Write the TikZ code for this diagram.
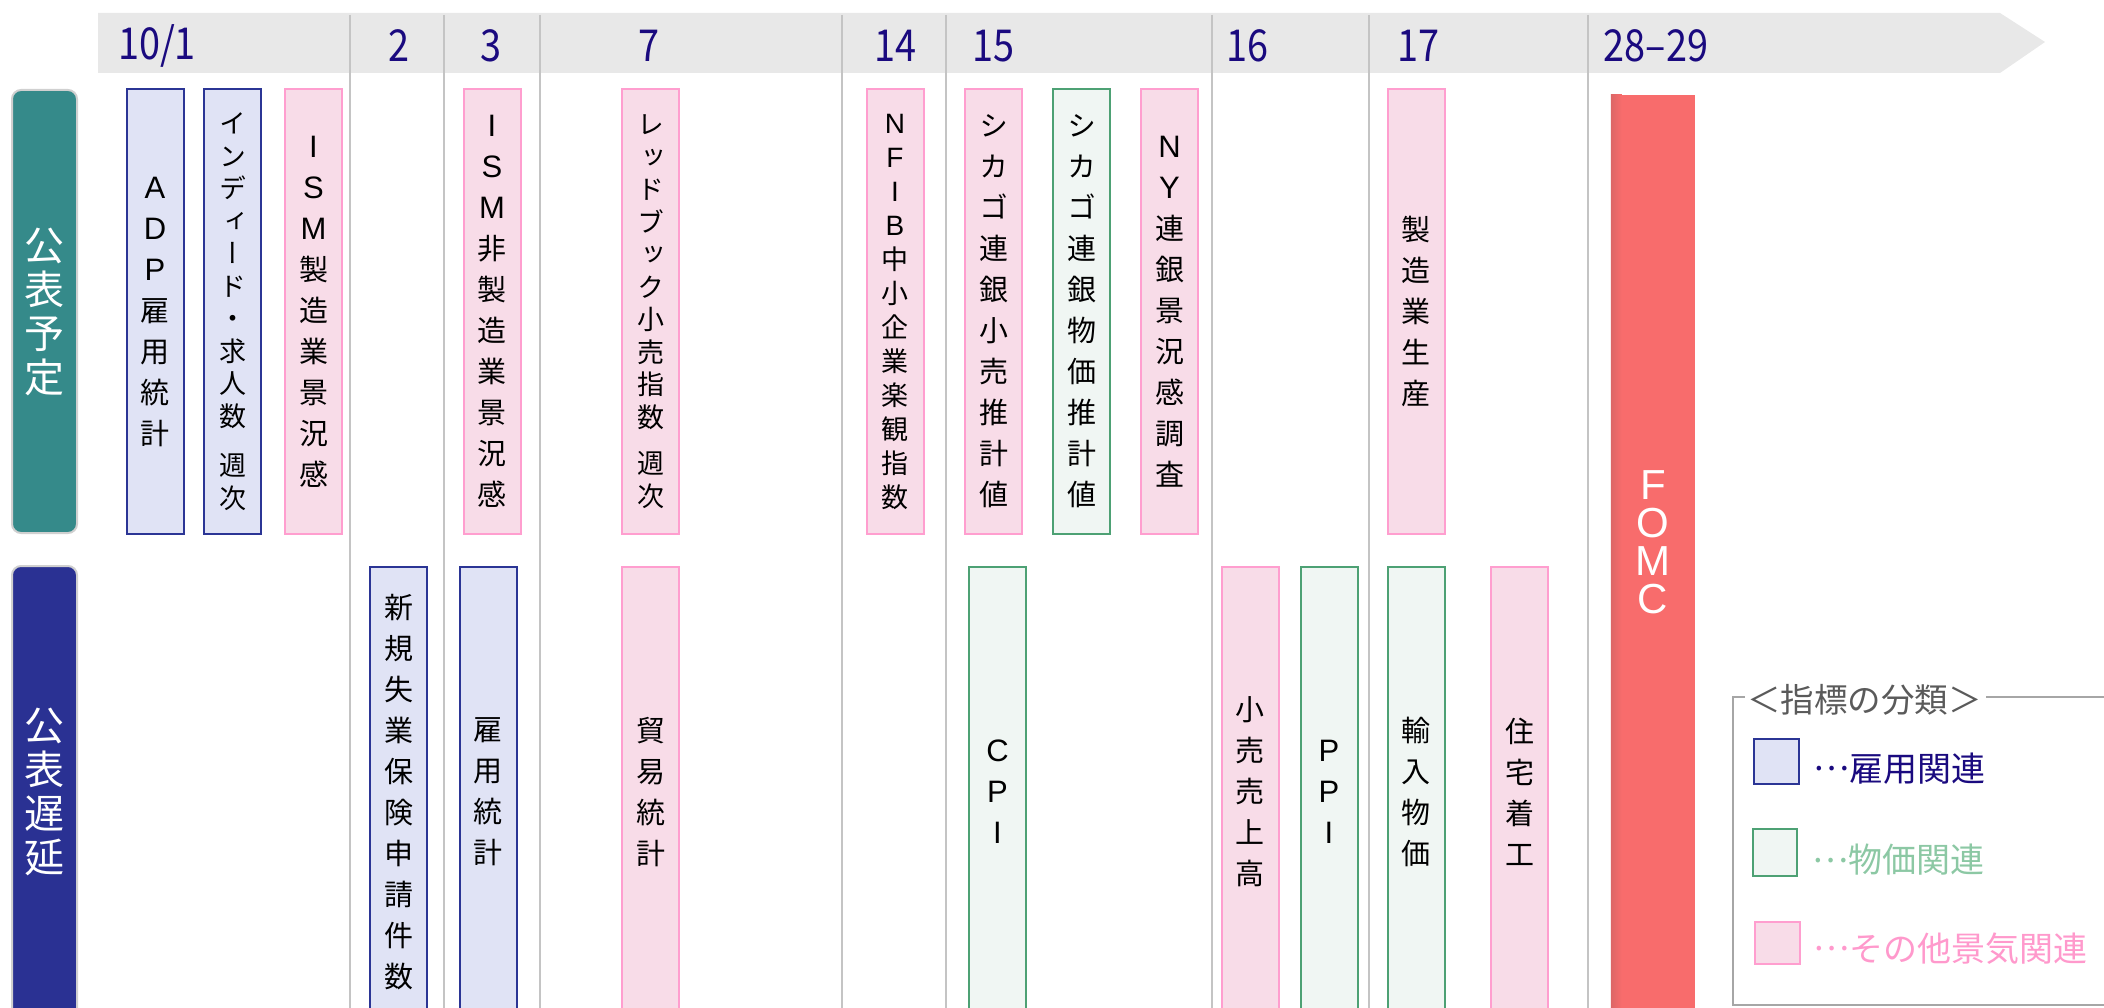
\documentclass[tikz,border=0pt]{standalone}
\usepackage{fontspec}
\usepackage{graphicx}
\setmainfont{Noto Sans CJK JP}
\newfontfamily\vjp[RawFeature=+vert]{Noto Sans CJK JP}
\newfontfamily\arialf{Liberation Sans}
\definecolor{dateC}{HTML}{1A0A7F}
\definecolor{empB}{HTML}{2B3595}
\definecolor{empF}{HTML}{E0E3F5}
\definecolor{priB}{HTML}{4DA174}
\definecolor{priF}{HTML}{F0F6F3}
\definecolor{othB}{HTML}{FF9ECF}
\definecolor{othF}{HTML}{F8DCE8}
\definecolor{priT}{HTML}{8CC8A4}
\definecolor{othT}{HTML}{FF99CC}
\definecolor{barC}{HTML}{E8E8E8}
\definecolor{sepC}{HTML}{C4C4C4}
\definecolor{tealC}{HTML}{358A8A}
\definecolor{navyC}{HTML}{2A3193}
\definecolor{lblB}{HTML}{D0D0D0}
\definecolor{fomcC}{HTML}{F86C6C}
\definecolor{fomcD}{HTML}{DC6666}
\definecolor{legL}{HTML}{A6A6A6}
\definecolor{legT}{HTML}{5A5A5A}
\newcommand\datetxt[1]{\scalebox{0.86}[1]{#1}}
\newcommand\lat[1]{{\arialf\fontsize{31}{41}\selectfont #1}}
\newcommand\latS[1]{{\arialf\fontsize{28}{34}\selectfont #1}}
\newcommand\mdots{\raisebox{0.32em}{…}}
\begin{document}
\begin{tikzpicture}[x=1pt,y=-1pt,
  emp/.style={draw=empB, fill=empF, line width=2pt},
  price/.style={draw=priB, fill=priF, line width=2pt},
  other/.style={draw=othB, fill=othF, line width=2pt},
  toprowbox/.style={minimum width=57pt, minimum height=445pt, inner sep=0pt, align=center, text=black, font=\vjp\fontsize{29}{41}\selectfont},
  botrowbox/.style={minimum width=57pt, minimum height=450pt, inner sep=0pt, align=center, text=black, font=\vjp\fontsize{29}{41}\selectfont},
  smalltxt/.style={font=\vjp\fontsize{27}{32.5}\selectfont},
  nfibtxt/.style={font=\vjp\fontsize{27}{34}\selectfont},
  datelbl/.style={text=dateC, inner sep=0pt, font=\fontsize{44}{44}\selectfont},
  sepline/.style={draw=sepC, line width=1.6pt},
  sidelbl/.style={draw=lblB, line width=2pt, rounded corners=9pt, minimum width=65pt, inner sep=0pt, align=center, text=white, font=\vjp\fontsize{40}{44}\selectfont},
  legline/.style={draw=legL, line width=2.2pt},
  legtxt/.style={anchor=west, inner sep=0pt, font=\fontsize{34}{34}\selectfont},
  legsq/.style={inner sep=0pt, line width=2pt}
]
\useasboundingbox (0,0) rectangle (2104,1008);
\clip (0,0) rectangle (2104,1008);

% timeline bar
\fill[barC] (98,13) -- (2000,13) -- (2045,42) -- (2000,73) -- (98,73) -- cycle;

% day separators
\foreach \sx in {350,444,540,842,946,1212,1369,1588}
  \draw[sepline] (\sx,15) -- (\sx,1010);

% date labels
\node[datelbl] (d1)  at (157,46)  {\datetxt{10/1}};
\node[datelbl] (d2)  at (399,46)  {\datetxt{2}};
\node[datelbl] (d3)  at (491,46)  {\datetxt{3}};
\node[datelbl] (d7)  at (649,46)  {\datetxt{7}};
\node[datelbl] (d14) at (895,46)  {\datetxt{14}};
\node[datelbl] (d15) at (993,46)  {\datetxt{15}};
\node[datelbl] (d16) at (1247,46) {\datetxt{16}};
\node[datelbl] (d17) at (1418,46) {\datetxt{17}};
\node[datelbl] (d28) at (1656,46) {\datetxt{28–29}};

% side labels
\node[sidelbl, fill=tealC, minimum height=443pt] (plan) at (44.5,311.5) {公\\表\\予\\定};
\node[sidelbl, fill=navyC, minimum height=452pt] (late) at (44.5,792) {公\\表\\遅\\延};

% top row
\node[toprowbox, emp] (adp) at (155,311.5) {\lat{A}\\\lat{D}\\\lat{P}\\雇\\用\\統\\計};
\node[toprowbox, emp, smalltxt] (indeed) at (232.5,311.5) {イ\\ン\\デ\\ィ\\ー\\ド\\・\\求\\人\\数\\[17pt]週\\次};
\node[toprowbox, other] (ism) at (313.5,311.5) {\lat{I}\\\lat{S}\\\lat{M}\\製\\造\\業\\景\\況\\感};
\node[toprowbox, other] (ismn) at (492,311.5) {\lat{I}\\\lat{S}\\\lat{M}\\非\\製\\造\\業\\景\\況\\感};
\node[toprowbox, other, smalltxt] (redbook) at (650.5,311.5) {レ\\ッ\\ド\\ブ\\ッ\\ク\\小\\売\\指\\数\\[14pt]週\\次};
\node[toprowbox, other, nfibtxt] (nfib) at (895,311.5) {\latS{N}\\\latS{F}\\\latS{I}\\\latS{B}\\中\\小\\企\\業\\楽\\観\\指\\数};
\node[toprowbox, other] (chiret) at (993.5,311.5) {シ\\カ\\ゴ\\連\\銀\\小\\売\\推\\計\\値};
\node[toprowbox, price] (chipri) at (1081.5,311.5) {シ\\カ\\ゴ\\連\\銀\\物\\価\\推\\計\\値};
\node[toprowbox, other] (ny) at (1169.5,311.5) {\lat{N}\\\lat{Y}\\連\\銀\\景\\況\\感\\調\\査};
\node[toprowbox, other] (mfg) at (1416,311.5) {製\\造\\業\\生\\産};

% bottom row
\node[botrowbox, emp] (claims) at (398.5,792) {新\\規\\失\\業\\保\\険\\申\\請\\件\\数};
\node[botrowbox, emp] (jobs) at (488,792) {雇\\用\\統\\計};
\node[botrowbox, other] (trade) at (650.5,792) {貿\\易\\統\\計};
\node[botrowbox, price] (cpi) at (997.5,792) {\lat{C}\\\lat{P}\\\lat{I}};
\node[botrowbox, other] (retail) at (1250,792) {小\\売\\売\\上\\高};
\node[botrowbox, price] (ppi) at (1329,792) {\lat{P}\\\lat{P}\\\lat{I}};
\node[botrowbox, price] (impp) at (1416,792) {輸\\入\\物\\価};
\node[botrowbox, other] (housing) at (1519.5,792) {住\\宅\\着\\工};

% FOMC
\node[fill=fomcC, minimum width=84pt, minimum height=925pt, inner sep=0pt] (fomc) at (1653,557.5) {};
\shade[left color=fomcD, right color=fomcC] (fomc.north west) rectangle ([xshift=11pt]fomc.south west);
\node[inner sep=0pt, align=center, text=white, font=\arialf\fontsize{42}{38}\selectfont] (fomctxt) at (1653,542) {F\\O\\M\\C};

% legend
\draw[legline] (1745,697) -- (1733,697) -- (1733,1005) -- (2110,1005);
\draw[legline] (1986,697) -- (2110,697);
\node[anchor=west, inner sep=0pt, text=legT, font=\fontsize{33.5}{33.5}\selectfont] (legtitle) at (1747,700) {＜指標の分類＞};
\node[legsq, draw=empB, fill=empF, minimum width=45pt, minimum height=45pt] (lgE) at (1776.5,761.5) {};
\node[legsq, draw=priB, fill=priF, minimum width=44pt, minimum height=47pt] (lgP) at (1775,852.5) {};
\node[legsq, draw=othB, fill=othF, minimum width=45pt, minimum height=42pt] (lgO) at (1777.5,943) {};
\node[legtxt, text=dateC] (lgEt) at (1813,769) {\mdots 雇用関連};
\node[legtxt, text=priT] (lgPt) at (1812,860) {\mdots 物価関連};
\node[legtxt, text=othT] (lgOt) at (1813,949) {\mdots その他景気関連};
\end{tikzpicture}
\end{document}
